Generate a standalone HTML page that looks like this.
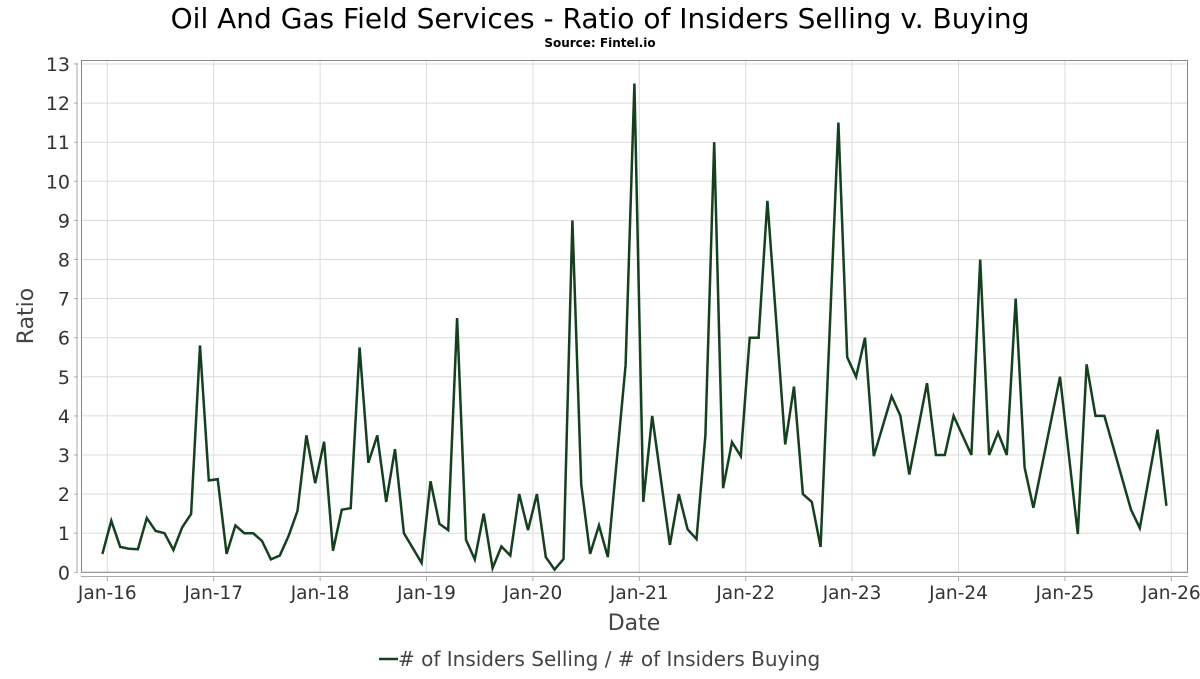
<!DOCTYPE html>
<html><head><meta charset="utf-8"><style>
body{margin:0;background:#fff;font-family:"DejaVu Sans","Liberation Sans",sans-serif;}
svg text{font-family:"DejaVu Sans","Liberation Sans",sans-serif;}
</style></head><body>
<svg id="chart" width="1200" height="675" viewBox="0 0 1200 675">
<text x="600" y="28" text-anchor="middle" font-size="28" fill="#000">Oil And Gas Field Services - Ratio of Insiders Selling v. Buying</text>
<text x="600" y="47" text-anchor="middle" font-size="12" font-weight="bold" fill="#000">Source: Fintel.io</text>
<g id="grid"></g>
<rect x="81.5" y="60.5" width="1106" height="511.8" fill="none" stroke="#888" stroke-width="1"/>
<line x1="77" y1="63" x2="77" y2="572" stroke="#aaa" stroke-width="1"/>
<line x1="81" y1="576.5" x2="1188" y2="576.5" stroke="#aaa" stroke-width="1"/>
<g id="yticks"></g>
<g id="xticks"></g>
<path id="series" fill="none" stroke="#15401f" stroke-width="2.5" stroke-linejoin="miter"/>
<text x="634" y="630" text-anchor="middle" font-size="22" fill="#444">Date</text>
<text transform="translate(33,316) rotate(-90)" text-anchor="middle" font-size="22" fill="#444">Ratio</text>
<g>
<line x1="379" y1="659" x2="398" y2="659" stroke="#15401f" stroke-width="2.5"/>
<text x="398" y="666" font-size="20" fill="#444"># of Insiders Selling / # of Insiders Buying</text>
</g>
</svg>
<script>
const yTicks=[0,1,2,3,4,5,6,7,8,9,10,11,12,13];
const xTickLabels=["Jan-16","Jan-17","Jan-18","Jan-19","Jan-20","Jan-21","Jan-22","Jan-23","Jan-24","Jan-25","Jan-26"];
// months since Jan-2016
const months=[-1,0,1,2,3,4,5,6,7,8,9,10,11,12,13,14,15,16,17,18,19,20,21,22,23,24,25,26,27,28,29,30,31,32,33,35,36,37,38,39,40,41,42,43,44,45,46,47,48,49,50,51,52,53,54,55,56,58,59,60,61,63,64,65,66,67,68,69,70,71,72,73,74,75,76,77,78,79,80,82,83,84,85,86,88,89,90,92,93,94,95,97,98,99,100,101,102,103,104,107,109,110,111,112,115,116,118,119];
const ratios=[0.47,1.32,0.65,0.6,0.59,1.39,1.06,1.0,0.57,1.15,1.49,5.8,2.35,2.38,0.47,1.2,1.0,1.0,0.8,0.33,0.43,0.93,1.57,3.5,2.28,3.34,0.55,1.6,1.64,5.75,2.8,3.5,1.8,3.15,1.0,0.24,2.33,1.24,1.08,6.5,0.83,0.33,1.5,0.11,0.66,0.43,2.0,1.08,2.0,0.39,0.07,0.34,9.0,2.25,0.47,1.2,0.39,5.3,12.5,1.8,4.0,0.7,2.0,1.1,0.85,3.5,11.0,2.15,3.33,2.97,6.0,6.0,9.5,6.4,3.27,4.75,2.0,1.8,0.65,11.5,5.5,5.0,6.0,2.97,4.5,4.0,2.5,4.84,3.0,3.0,4.0,3.0,8.0,3.0,3.57,3.0,7.0,2.68,1.65,5.0,0.98,5.32,4.0,4.0,1.6,1.13,3.65,1.7];
const NS="http://www.w3.org/2000/svg";
const X0=107.3,PXM=106.4/12,Y0=572.3,PYU=39.1;
function xs(m){return X0+m*PXM;}
function ys(v){return Y0-v*PYU;}
const grid=document.getElementById('grid'),yg=document.getElementById('yticks'),xg=document.getElementById('xticks');
yTicks.forEach(v=>{
 const l=document.createElementNS(NS,'line');
 
 
 l.setAttribute('x1',82);l.setAttribute('x2',1188);l.setAttribute('y1',ys(v));l.setAttribute('y2',ys(v));
 l.setAttribute('stroke','#dcdcdc');l.setAttribute('stroke-width',1);grid.appendChild(l);
 const tk=document.createElementNS(NS,'line');
 
 
 tk.setAttribute('x1',74);tk.setAttribute('x2',78);tk.setAttribute('y1',ys(v));tk.setAttribute('y2',ys(v));
 tk.setAttribute('stroke','#aaa');yg.appendChild(tk);
 const t=document.createElementNS(NS,'text');
 
 
 t.setAttribute('x',70);t.setAttribute('y',ys(v)+7);t.setAttribute('text-anchor','end');
 t.setAttribute('font-size','19');t.setAttribute('fill','#333');t.textContent=v;yg.appendChild(t);
});
xTickLabels.forEach((s,i)=>{
 const x=xs(i*12);
 const l=document.createElementNS(NS,'line');
 
 
 l.setAttribute('x1',x);l.setAttribute('x2',x);l.setAttribute('y1',60);l.setAttribute('y2',572);
 l.setAttribute('stroke','#dcdcdc');l.setAttribute('stroke-width',1);grid.appendChild(l);
 const tk=document.createElementNS(NS,'line');
 
 
 tk.setAttribute('x1',x);tk.setAttribute('x2',x);tk.setAttribute('y1',576);tk.setAttribute('y2',581);
 tk.setAttribute('stroke','#aaa');xg.appendChild(tk);
 const t=document.createElementNS(NS,'text');
 
 
 t.setAttribute('x',x);t.setAttribute('y',599);t.setAttribute('text-anchor','middle');
 t.setAttribute('font-size','18.5');t.setAttribute('fill','#333');t.textContent=s;xg.appendChild(t);
});
let d='';
months.forEach((m,i)=>{d+=(i?'L':'M')+xs(m+0.45).toFixed(1)+','+ys(ratios[i]).toFixed(1);});
document.getElementById('series').setAttribute('d',d);
</script>
</body></html>
